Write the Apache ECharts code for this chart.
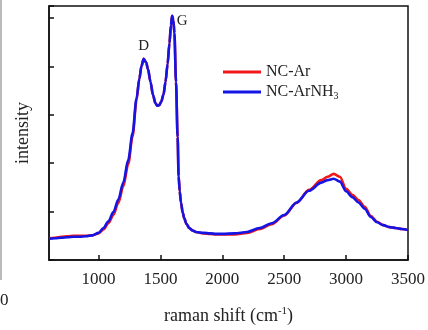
<!DOCTYPE html>
<html>
<head>
<meta charset="utf-8">
<script src="https://cdn.jsdelivr.net/npm/echarts@6/dist/echarts.min.js"></script>
<style>
  html, body { margin: 0; padding: 0; background: #fff; }
  #raman { width: 428px; height: 330px; }
</style>
</head>
<body>
<div id="raman"></div>
<script>
// raman shift (cm-1), shared by both spectra
var ramanShift = [600, 650, 700, 750, 800, 850, 900, 950, 1000, 1040, 1080, 1120, 1160, 1200, 1240, 1275,
	1307, 1330, 1347, 1365, 1385, 1400, 1420, 1440, 1460, 1474, 1490, 1506, 1525, 1541, 1558, 1573,
	1585, 1594, 1605, 1613, 1626, 1639, 1647, 1656, 1666, 1680, 1693, 1710, 1733, 1760, 1786, 1850,
	1900, 1950, 2000, 2100, 2200, 2300, 2400, 2500, 2600, 2700, 2800, 2850, 2900, 2950, 3000, 3050,
	3100, 3150, 3200, 3250, 3300, 3350, 3400, 3450, 3500];

var ncAr = [0.45, 0.46, 0.48, 0.49, 0.50, 0.50, 0.50, 0.51, 0.55, 0.63, 0.76, 0.93, 1.18, 1.52, 1.98, 2.55,
	3.30, 3.75, 4.01, 4.16, 4.08, 3.94, 3.68, 3.41, 3.24, 3.19, 3.20, 3.27, 3.42, 3.68, 4.05, 4.48,
	4.85, 5.05, 4.95, 4.69, 3.68, 2.54, 1.73, 1.42, 1.19, 0.98, 0.86, 0.75, 0.66, 0.61, 0.58, 0.55,
	0.54, 0.53, 0.53, 0.53, 0.56, 0.64, 0.74, 0.92, 1.18, 1.45, 1.65, 1.72, 1.78, 1.72, 1.47, 1.35,
	1.24, 1.10, 0.91, 0.79, 0.72, 0.68, 0.66, 0.64, 0.62];

var ncArNH3 = [0.44, 0.45, 0.46, 0.47, 0.48, 0.48, 0.49, 0.51, 0.56, 0.66, 0.80, 0.99, 1.25, 1.60, 2.07, 2.62,
	3.34, 3.75, 4.01, 4.16, 4.08, 3.94, 3.68, 3.41, 3.24, 3.19, 3.20, 3.27, 3.42, 3.68, 4.05, 4.48,
	4.85, 5.05, 4.95, 4.69, 3.68, 2.54, 1.73, 1.42, 1.19, 0.98, 0.86, 0.75, 0.66, 0.61, 0.58, 0.56,
	0.55, 0.54, 0.54, 0.55, 0.58, 0.66, 0.76, 0.93, 1.19, 1.43, 1.60, 1.65, 1.68, 1.62, 1.42, 1.30,
	1.19, 1.06, 0.89, 0.78, 0.72, 0.68, 0.66, 0.64, 0.62];

var xTicks = [1000, 1500, 2000, 2500, 3000, 3500];
var peakD = [1365, 4.16];
var peakG = [1594, 5.05];

function pairs(xs, ys) {
	return xs.map(function (x, i) { return [x, ys[i]]; });
}

var serif = 'Liberation Serif';
var chart = echarts.init(document.getElementById('raman'));
var option = {
	animation: false,
	textStyle: { fontFamily: serif },
	grid: {
		left: 49, right: 16, top: 6, bottom: 64,
		show: true, borderColor: '#111', borderWidth: 1.5
	},
	legend: {
		orient: 'vertical',
		left: 218, top: 59,
		itemWidth: 38, itemHeight: 3, itemGap: 4,
		icon: 'rect',
		textStyle: {
			fontFamily: serif, fontSize: 16, color: '#222',
			rich: {
				sub: { fontFamily: serif, fontSize: 10, color: '#222', padding: [8, 0, 0, 0] }
			}
		},
		formatter: function (name) {
			return name === 'NC-ArNH3' ? 'NC-ArNH{sub|3}' : name;
		}
	},
	xAxis: {
		type: 'value',
		min: 600, max: 3500,
		name: 'raman shift (cm{sup|-1})',
		nameLocation: 'middle',
		nameGap: 46,
		nameTextStyle: {
			fontFamily: serif, fontSize: 18, color: '#222',
			rich: { sup: { fontFamily: serif, fontSize: 11, color: '#222', padding: [0, 0, 9, 0] } }
		},
		axisLine: { lineStyle: { color: '#111', width: 1.5 } },
		axisTick: { inside: true, length: 5, customValues: xTicks, lineStyle: { color: '#111', width: 1.5 } },
		axisLabel: {
			customValues: xTicks, fontFamily: serif, fontSize: 17, color: '#222', margin: 11,
			formatter: function (v) { return String(v); }
		},
		splitLine: { show: false }
	},
	yAxis: {
		type: 'value',
		min: 0, max: 5.25, interval: 1,
		name: 'intensity',
		nameLocation: 'middle',
		nameGap: 17,
		nameTextStyle: { fontFamily: serif, fontSize: 18, color: '#222' },
		axisLine: { lineStyle: { color: '#111', width: 1.5 } },
		axisTick: { inside: true, length: 5, lineStyle: { color: '#111', width: 1.5 } },
		axisLabel: { show: false },
		splitLine: { show: false }
	},
	series: [
		{
			name: 'NC-Ar',
			type: 'line',
			data: pairs(ramanShift, ncAr),
			showSymbol: false,
			smooth: 0.3,
			smoothMonotone: 'x',
			lineStyle: { color: '#f01818', width: 2.6 },
			itemStyle: { color: '#f01818' }
		},
		{
			name: 'NC-ArNH3',
			type: 'line',
			data: pairs(ramanShift, ncArNH3),
			showSymbol: false,
			smooth: 0.3,
			smoothMonotone: 'x',
			lineStyle: { color: '#1414e6', width: 2.6 },
			itemStyle: { color: '#1414e6' },
			markPoint: {
				symbol: 'circle',
				symbolSize: 0,
				label: { show: true, fontFamily: serif, fontSize: 15, color: '#222' },
				data: [
					{ coord: peakD, label: { formatter: 'D', offset: [0, -13] } },
					{ coord: peakG, label: { formatter: 'G', offset: [10, 5] } }
				]
			}
		}
	],
	graphic: [
		{ type: 'rect', left: 0, top: 0, shape: { width: 2, height: 280 }, style: { fill: '#bbb' } },
		{ type: 'text', left: 0, top: 292, style: { text: '0', font: '17px "Liberation Serif"', fill: '#222' } }
	]
};
chart.setOption(option);
</script>
</body>
</html>
